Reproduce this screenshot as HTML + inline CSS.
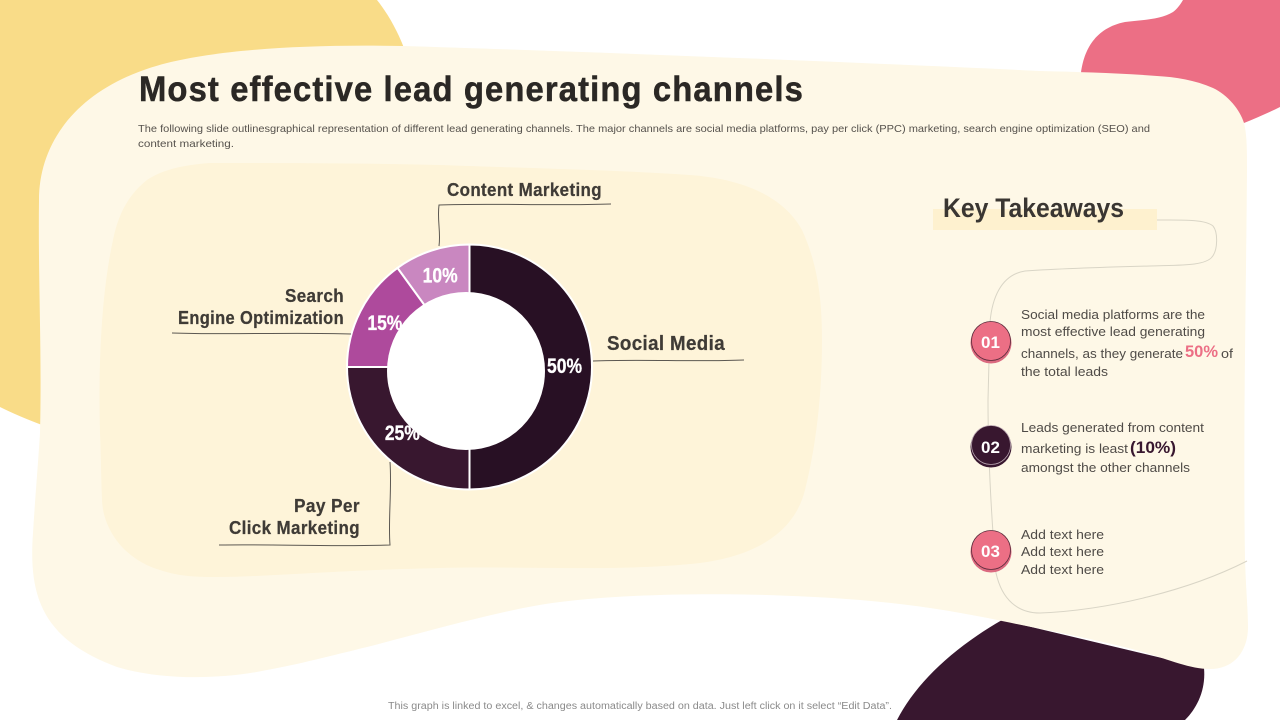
<!DOCTYPE html>
<html lang="en">
<head>
<meta charset="utf-8">
<title>Most effective lead generating channels</title>
<style>
html,body{margin:0;padding:0;background:#fff}
#slide{position:relative;width:1280px;height:720px;overflow:hidden;background:#fff}
svg{position:absolute;left:0;top:0;display:block}
text{font-family:"Liberation Sans",sans-serif}
.lab{font-weight:700;font-size:18px;fill:#3f3b36;stroke:#3f3b36;stroke-width:.25px;letter-spacing:.4px}
.pct{font-weight:700;font-size:21px;fill:#fff;stroke:#fff;stroke-width:.3px;text-anchor:middle}
.body{font-size:13px;fill:#4f4b47;font-family:"Liberation Sans",sans-serif}
.num{font-weight:700;font-size:17px;fill:#fff;text-anchor:middle}
.squig{fill:none;stroke:#5c5852;stroke-width:1}
.route{fill:none;stroke:#d9d5c6;stroke-width:1}
</style>
</head>
<body>
<div id="slide">
<svg width="1280" height="720" viewBox="0 0 1280 720">
  <path fill="#F9DC88" d="M0 0H377C388 14 397 30 404 48L300 250L42 425C26 419 12 413 0 407Z"/>
  <path fill="#EC6F85" d="M1081 73C1084 50 1095 28 1125 22C1140 20 1160 20 1173 12C1177 9 1180 5 1183 0H1280V107C1268 113 1256 118 1244 123L1180 90Z"/>
  <path fill="#38172F" d="M897 720C915 685 950 650 1002 620L1204 668C1206 690 1197 708 1185 720Z"/>
  <path fill="#FEF8E7" d="M403 46C600 52 850 62 1040 71C1080 72 1120 73 1157 76C1175 77 1195 80 1213 88C1228 95 1240 110 1244 123C1247 135 1247 150 1247 170C1246 300 1243 430 1245 560C1246 590 1248 610 1248 627C1248 650 1235 669 1210 669C1190 669 1170 660 1143 652C1100 640 1050 631 1002 621C960 612 910 604 860 600C760 592 640 592 560 602C510 608 440 628 367 647C330 656 300 664 267 670C220 680 160 680 117 667C45 640 28 600 33 533C35 500 38 465 40 433C42 350 38 280 39 200C39 140 80 85 167 63C220 50 300 44 403 46Z"/>
  <path fill="#FEF4D9" d="M100 433C98 360 102 290 113 240C118 215 128 195 147 180C162 170 182 165 210 163C280 163 360 163 440 165C520 168 620 170 690 175C730 178 780 190 802 230C818 265 822 300 822 340C822 400 815 450 805 490C795 530 760 555 700 563C620 572 520 566 440 568C400 569 370 570 333 572C290 574 250 577 217 577C200 577 180 577 160 570C125 560 103 530 102 500C101 475 101 455 100 433Z"/>

  <text x="139" y="101" font-size="35" font-weight="700" fill="#2b2825" stroke="#2b2825" stroke-width=".5" letter-spacing="1.2" textLength="665" lengthAdjust="spacingAndGlyphs">Most effective lead generating channels</text>
  <text x="138" y="132" font-size="10.5" fill="#55514c" textLength="1012" lengthAdjust="spacingAndGlyphs">The following slide outlinesgraphical representation of different lead generating channels. The major channels are social media platforms, pay per click (PPC) marketing, search engine optimization (SEO) and</text>
  <text x="138" y="147" font-size="10.5" fill="#55514c" textLength="96" lengthAdjust="spacingAndGlyphs">content marketing.</text>

  <g id="donut"></g>

  <path class="squig" d="M611 204C550 206 490 203 439 205C437 220 441 232 439 246"/>
  <path class="squig" d="M172 333C230 335 290 332 351 334"/>
  <path class="squig" d="M593 361C640 359 695 362 744 360"/>
  <path class="squig" d="M390 462C392 490 388 520 390 545C330 547 275 544 219 545"/>

  <text class="lab" x="447" y="196" textLength="155" lengthAdjust="spacingAndGlyphs">Content Marketing</text>
  <text class="lab" x="285" y="302" textLength="59" lengthAdjust="spacingAndGlyphs">Search</text>
  <text class="lab" x="178" y="324" textLength="166" lengthAdjust="spacingAndGlyphs">Engine Optimization</text>
  <text class="lab" x="607" y="350" style="font-size:20px" textLength="118" lengthAdjust="spacingAndGlyphs">Social  Media</text>
  <text class="lab" x="294" y="512" textLength="66" lengthAdjust="spacingAndGlyphs">Pay Per</text>
  <text class="lab" x="229" y="534" textLength="131" lengthAdjust="spacingAndGlyphs">Click Marketing</text>

  <rect x="933" y="209" width="224" height="21" fill="#FEF1CF"/>
  <text x="943" y="217" font-size="27" font-weight="700" fill="#3a3632" textLength="181" lengthAdjust="spacingAndGlyphs">Key Takeaways</text>

  <path class="route" d="M1157 220C1180 220 1205 219 1213 226C1218 232 1218 250 1212 257C1205 266 1180 265 1150 266C1110 267 1070 268 1025 271C1000 275 992 300 990 322L988 400C988 450 990 500 996 573C1002 600 1018 613 1040 613C1110 610 1190 590 1247 561"/>

  <g>
    <circle cx="991" cy="343" r="20.5" fill="#DB6A80"/>
    <circle cx="991" cy="341" r="19.5" fill="#EC6F85" stroke="#5a2a3a" stroke-width="0.8"/>
    <text class="num" x="990.5" y="348">01</text>
  </g>
  <g>
    <circle cx="991" cy="447" r="20.5" fill="#38172F"/>
    <circle cx="991" cy="445" r="19.5" fill="#38172F" stroke="#b9a5b0" stroke-width="0.8"/>
    <text class="num" x="990.5" y="453">02</text>
  </g>
  <g>
    <circle cx="991" cy="552" r="20.5" fill="#DB6A80"/>
    <circle cx="991" cy="550" r="19.5" fill="#EC6F85" stroke="#5a2a3a" stroke-width="0.8"/>
    <text class="num" x="990.5" y="557">03</text>
  </g>

  <text class="body" x="1021" y="319" textLength="184" lengthAdjust="spacingAndGlyphs">Social media platforms are the</text>
  <text class="body" x="1021" y="336" textLength="184" lengthAdjust="spacingAndGlyphs">most effective lead generating</text>
  <text class="body" x="1021" y="358" textLength="162" lengthAdjust="spacingAndGlyphs">channels, as they generate</text>
  <text x="1185" y="357" font-size="16.5" font-weight="700" fill="#EC6F85" textLength="33" lengthAdjust="spacingAndGlyphs">50%</text>
  <text class="body" x="1221" y="358" textLength="12" lengthAdjust="spacingAndGlyphs">of</text>
  <text class="body" x="1021" y="376" textLength="87" lengthAdjust="spacingAndGlyphs">the total leads</text>

  <text class="body" x="1021" y="432" textLength="183" lengthAdjust="spacingAndGlyphs">Leads generated from content</text>
  <text class="body" x="1021" y="453" textLength="107" lengthAdjust="spacingAndGlyphs">marketing is least</text>
  <text x="1130" y="453" font-size="16.5" font-weight="700" fill="#38172F" textLength="46" lengthAdjust="spacingAndGlyphs">(10%)</text>
  <text class="body" x="1021" y="472" textLength="169" lengthAdjust="spacingAndGlyphs">amongst the other channels</text>

  <text class="body" x="1021" y="539" textLength="83" lengthAdjust="spacingAndGlyphs">Add text here</text>
  <text class="body" x="1021" y="556" textLength="83" lengthAdjust="spacingAndGlyphs">Add text here</text>
  <text class="body" x="1021" y="574" textLength="83" lengthAdjust="spacingAndGlyphs">Add text here</text>

  <text x="388" y="709" font-size="10" fill="#8a8a8a" textLength="504" lengthAdjust="spacingAndGlyphs">This graph is linked to excel, &amp; changes automatically based on data. Just left click on it select “Edit Data”.</text>
</svg>
</div>
<script>
const categories = ['Social Media', 'Pay Per Click Marketing', 'Search Engine Optimization', 'Content Marketing'];
const shareValues = [50, 25, 15, 10];
const sliceColors = ['#281024', '#38172F', '#AE4A9C', '#C987C0'];

const NS = 'http://www.w3.org/2000/svg';
const donut = document.getElementById('donut');
const cx = 469.5, cy = 367, outerR = 122.5, innerR = 68;
const holeCx = 466, holeCy = 371, holeR = 79;
const total = shareValues.reduce(function (a, b) { return a + b; }, 0);

function angleOf(value) { return value / total * Math.PI * 2; }
function point(r, a) { return [cx + r * Math.sin(a), cy - r * Math.cos(a)]; }

let running = 0;
shareValues.forEach(function (value, i) {
  const a0 = angleOf(running);
  const a1 = angleOf(running + value);
  const large = a1 - a0 > Math.PI ? 1 : 0;
  const p0 = point(outerR, a0), p1 = point(outerR, a1), p2 = point(innerR, a1), p3 = point(innerR, a0);
  const slice = document.createElementNS(NS, 'path');
  slice.setAttribute('d', 'M' + p0 + 'A' + outerR + ' ' + outerR + ' 0 ' + large + ' 1 ' + p1 + 'L' + p2 + 'A' + innerR + ' ' + innerR + ' 0 ' + large + ' 0 ' + p3 + 'Z');
  slice.setAttribute('fill', sliceColors[i]);
  slice.setAttribute('stroke', '#fff');
  slice.setAttribute('stroke-width', '2');
  
  
  donut.appendChild(slice);
  running += value;
});

const hole = document.createElementNS(NS, 'circle');
hole.setAttribute('cx', holeCx);
hole.setAttribute('cy', holeCy);
hole.setAttribute('r', holeR);
hole.setAttribute('fill', '#fff');


donut.appendChild(hole);

running = 0;
shareValues.forEach(function (value, i) {
  const mid = angleOf(running + value / 2);
  const p = point(95, mid);
  const label = document.createElementNS(NS, 'text');
  label.setAttribute('class', 'pct');
  label.setAttribute('x', p[0]);
  label.setAttribute('y', p[1] + 6);
  label.setAttribute('textLength', '35');
  label.setAttribute('lengthAdjust', 'spacingAndGlyphs');
  label.textContent = value + '%';
  
  
  donut.appendChild(label);
  running += value;
});
</script>
</body>
</html>
